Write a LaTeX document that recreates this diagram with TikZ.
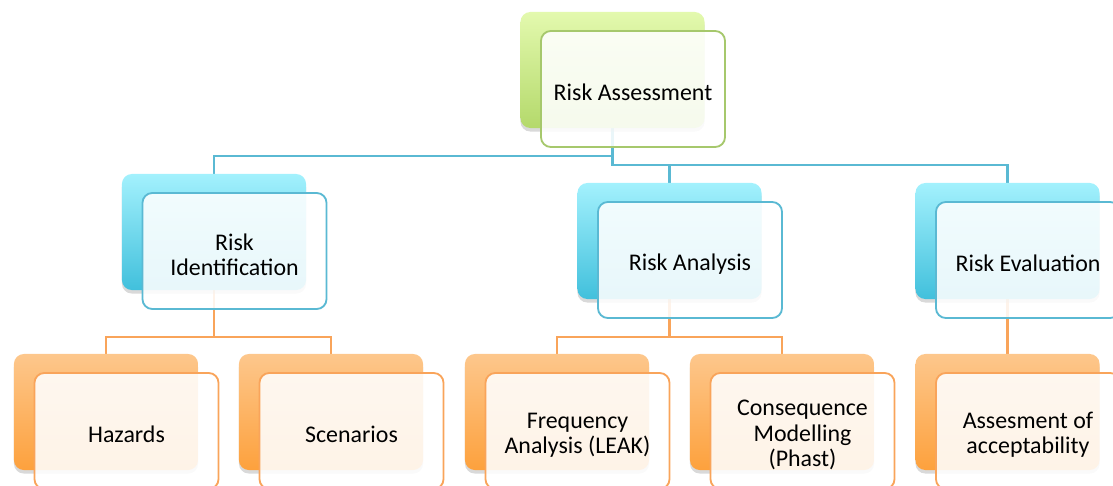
\documentclass[tikz,border=0pt]{standalone}
\usepackage{fontspec}
\setmainfont{Carlito}
\usetikzlibrary{shadows, backgrounds}

\definecolor{greentop}{HTML}{E3F9AE}
\definecolor{greenbot}{HTML}{B4D96B}
\definecolor{greenline}{HTML}{A6C86C}
\definecolor{bluetop}{HTML}{A3F1FD}
\definecolor{bluebot}{HTML}{41C0DC}
\definecolor{blueline}{HTML}{5AB9D3}
\definecolor{orangetop}{HTML}{FDC78C}
\definecolor{orangebot}{HTML}{FDA13D}
\definecolor{orangeline}{HTML}{F9A45A}

\tikzset{
	card/.style={rounded corners=7pt, minimum width=4.6cm, minimum height=2.9cm, inner sep=0pt},
	cardback/.style={card, draw=none, drop shadow={shadow xshift=0pt, shadow yshift=-2.5pt, opacity=0.3}},
	cardfront/.style={card, line width=1.3pt, fill=white, fill opacity=0.88, text opacity=1, align=center,
		font=\fontsize{17}{18}\selectfont},
	greenback/.style={cardback, top color=greentop, bottom color=greenbot},
	blueback/.style={cardback, top color=bluetop, bottom color=bluebot},
	orangeback/.style={cardback, top color=orangetop, bottom color=orangebot},
	wire/.style={line width=1.5pt},
}

% tall first line, sets the text a little low in the card
\newcommand\cardstrut{\rule{0pt}{17pt}}

% coloured card with the text card laid over it
\newcommand\riskbox[4]{
	\node [#3back] (#1-back) at (#2) {};
	\node [cardfront, draw=#3line] (#1) at ([shift={(20.5,19)}]#1-back.center) {\cardstrut#4};
}

\begin{document}
\begin{tikzpicture}[x=0.025cm, y=-0.025cm]
	\path [use as bounding box, clip] (0,0) rectangle (1113,486);

	\riskbox{root}{612.5,70}{green}{Risk Assessment}

	\riskbox{ri}{214,232}{blue}{Risk\\Identification}
	\riskbox{ra}{669.5,241}{blue}{Risk Analysis}
	\riskbox{re}{1007.5,241}{blue}{Risk Evaluation}

	\riskbox{hz}{106,412}{orange}{Hazards}
	\riskbox{sc}{331,412}{orange}{Scenarios}
	\riskbox{fa}{557,412}{orange}{Frequency\\Analysis (LEAK)}
	\riskbox{cm}{782,412}{orange}{Consequence\\Modelling\\(Phast)}
	\riskbox{ac}{1007.5,412}{orange}{Assesment of\\acceptability}

	\coordinate (leftbus) at (612.5,156);
	\coordinate (rightbus) at (612.5,165);
	\coordinate (ri-bus) at (214,337);
	\coordinate (ra-bus) at (669.5,337);

	\begin{pgfonlayer}{background}
		\draw [wire, blueline] (root-back.south) -- (rightbus) -| (ra-back.north);
		\draw [wire, blueline] (rightbus) -| (re-back.north);
		\draw [wire, blueline] (root-back.south) -- (leftbus) -| (ri-back.north);

		\draw [wire, orangeline] (ri-back.south) -- (ri-bus) -| (hz-back.north);
		\draw [wire, orangeline] (ri-bus) -| (sc-back.north);
		\draw [wire, orangeline] (ra-back.south) -- (ra-bus) -| (fa-back.north);
		\draw [wire, orangeline] (ra-bus) -| (cm-back.north);
		\draw [wire, orangeline] (re-back.south) -- (ac-back.north);
	\end{pgfonlayer}
\end{tikzpicture}
\end{document}
